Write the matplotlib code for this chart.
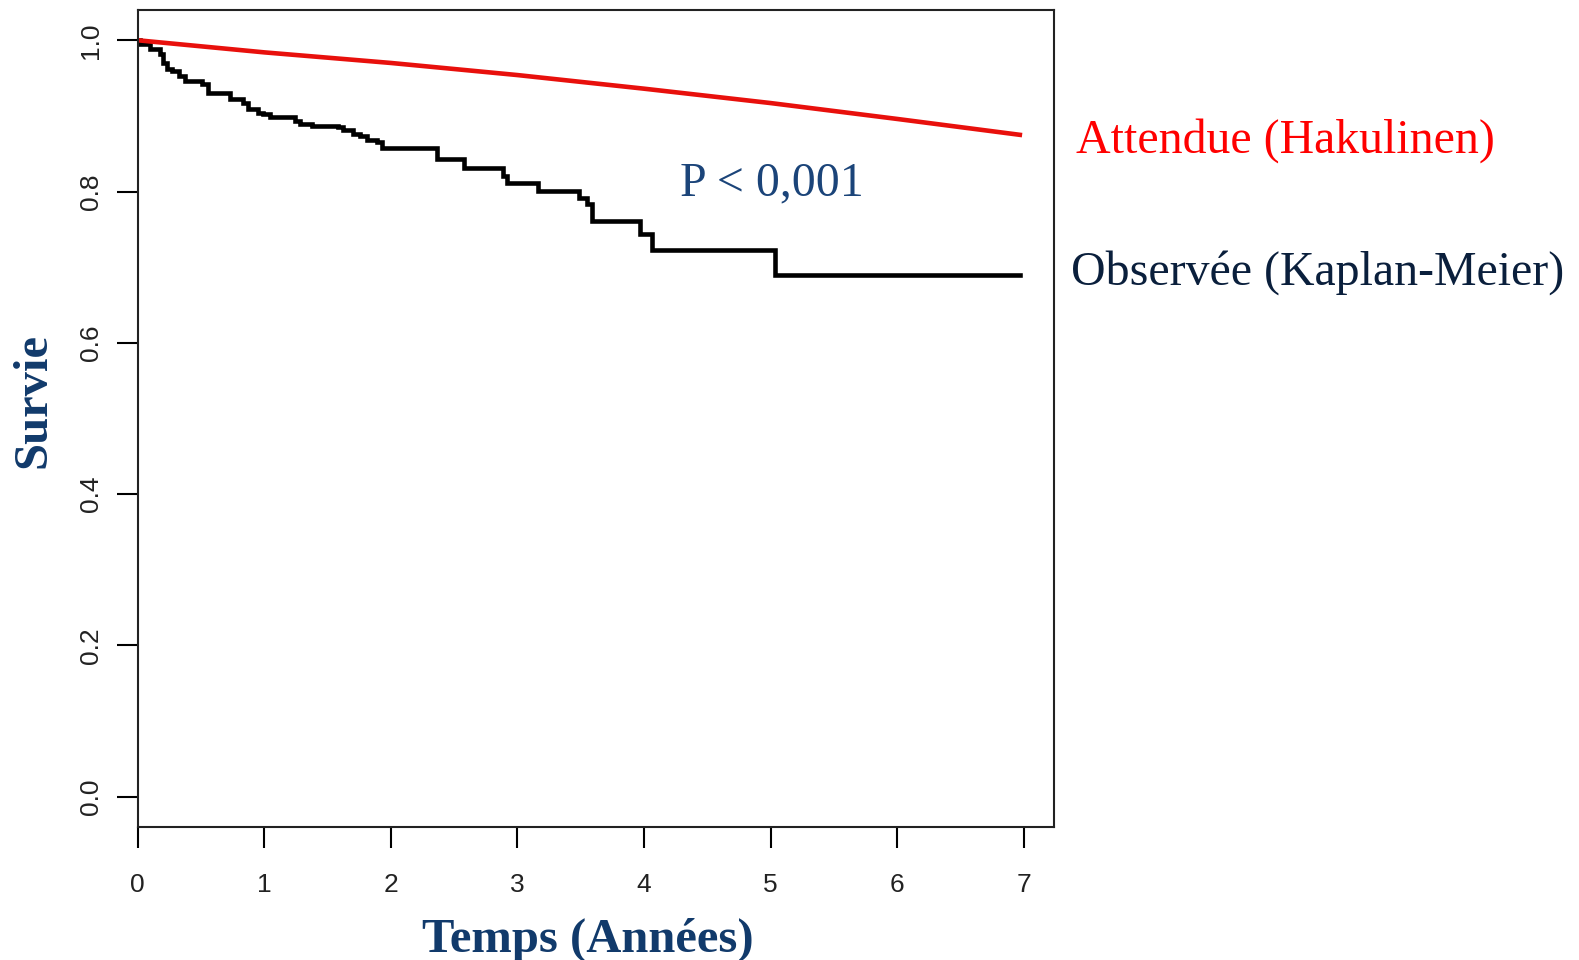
#!/usr/bin/env python
# -*- coding: utf-8 -*-

import numpy as np
import matplotlib
matplotlib.use("Agg")
import matplotlib.pyplot as plt

# survie observée (Kaplan-Meier) : instants des sauts et survie après le saut
km_temps = [0, 0.018, 0.097, 0.137, 0.176, 0.20, 0.23, 0.27, 0.33, 0.37, 0.51,
            0.555, 0.73, 0.83, 0.87, 0.95, 0.99, 1.045, 1.24, 1.28, 1.38, 1.58,
            1.62, 1.70, 1.76, 1.81, 1.89, 1.93, 2.365, 2.58, 2.89, 2.92, 3.16,
            3.49, 3.55, 3.59, 3.97, 4.06, 5.035, 6.97]
km_survie = [1.0, 0.995, 0.989, 0.988, 0.982, 0.970, 0.962, 0.959, 0.953, 0.946,
             0.942, 0.930, 0.923, 0.917, 0.909, 0.904, 0.902, 0.898, 0.893, 0.889,
             0.887, 0.885, 0.882, 0.876, 0.873, 0.868, 0.865, 0.858, 0.843, 0.831,
             0.820, 0.811, 0.801, 0.792, 0.783, 0.761, 0.744, 0.723, 0.690, 0.690]

# survie attendue (Hakulinen)
att_temps = [0, 1, 2, 3, 4, 5, 6, 6.97]
att_survie = [1.0, 0.984, 0.970, 0.954, 0.936, 0.917, 0.896, 0.875]

x_ticks = [0, 1, 2, 3, 4, 5, 6, 7]
y_ticks = [0.0, 0.2, 0.4, 0.6, 0.8, 1.0]

W, H = 1579, 960


def fx(px):
    return px / W


def fy(py):
    return 1 - py / H


def main():
    fig = plt.figure(figsize=(W / 100, H / 100), dpi=100)
    ax = fig.add_axes([fx(137.7), fy(827), fx(1054) - fx(137.7), fy(10) - fy(827)])

    ax.step(km_temps, km_survie, where="post", color="black", lw=3.3,
            solid_joinstyle="miter")
    ax.plot(att_temps, att_survie, color="#e8100c", lw=3.3)

    ax.set_xlim(0, 7.24)
    ax.set_ylim(-0.04, 1.04)
    ax.set_xticks(x_ticks)
    ax.set_yticks(y_ticks)
    ax.set_xticklabels([str(t) for t in x_ticks])
    ax.set_yticklabels(["%.1f" % t for t in y_ticks], rotation=90, va="center")
    ax.tick_params(axis="both", direction="out", length=15, width=1.5,
                   labelsize=19, labelcolor="#222222")
    ax.tick_params(axis="x", pad=18)
    ax.tick_params(axis="y", pad=10)
    for lab in ax.get_xticklabels() + ax.get_yticklabels():
        lab.set_family("Liberation Sans")
    for s in ax.spines.values():
        s.set_linewidth(1.5)
        s.set_color("#222222")

    serif = "Liberation Serif"
    fig.text(fx(1076), fy(153), "Attendue (Hakulinen)", color="#ff0000",
             fontsize=34.5, family=serif, va="baseline", ha="left")
    fig.text(fx(1071), fy(285), "Observée (Kaplan-Meier)", color="#0a1f3c",
             fontsize=34.5, family=serif, va="baseline", ha="left")
    fig.text(fx(680), fy(195), "P < 0,001", color="#1b4479",
             fontsize=34.5, family=serif, va="baseline", ha="left")
    fig.text(fx(588), fy(952), "Temps (Années)", color="#113a6b",
             fontsize=35, family=serif, weight="bold", va="baseline", ha="center")
    fig.text(fx(33), fy(401), "Survie", color="#113a6b", rotation=90,
             fontsize=35, family=serif, weight="bold", va="center", ha="center")

    plt.savefig("out.png", dpi=100)


if __name__ == '__main__':
    main()
